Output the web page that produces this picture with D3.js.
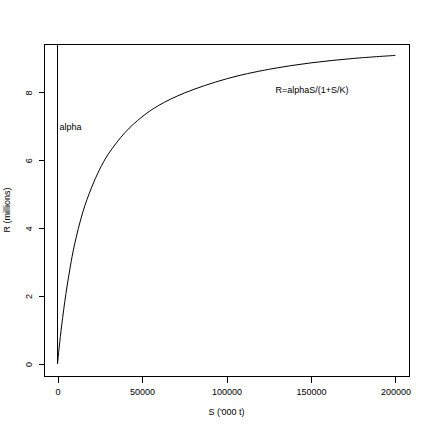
<!DOCTYPE html>
<html><head><meta charset="utf-8">
<script src="https://cdn.jsdelivr.net/npm/d3@7"></script>
<style>body{margin:0;background:#fff}svg{display:block}text{font-family:"Liberation Sans",Arial,sans-serif;font-size:9px;fill:#000}</style>
</head><body>
<script>
// Data
const stock = [0, 1000, 2500, 5000, 7500, 10000, 15000, 20000, 25000, 30000, 40000, 50000, 60000, 75000, 100000, 125000, 150000, 175000, 200000];
const recruits = [0, 0.50, 1.15, 2.08, 2.85, 3.50, 4.48, 5.18, 5.74, 6.18, 6.82, 7.28, 7.62, 7.98, 8.40, 8.68, 8.87, 9.00, 9.09];
const alphaS = [0, 0];
const alphaR = [0, 20];
const xTicks = [0, 50000, 100000, 150000, 200000];
const yTicks = [0, 2, 4, 6, 8];
const xLabel = "S ('000 t)";
const yLabel = "R (millions)";
const alphaLabel = "alpha";
const curveLabel = "R=alphaS/(1+S/K)";

const W = 432, H = 432;
const L = 44, R = 409, T = 44, B = 376;
const svg = d3.select("body").append("svg").attr("width", W).attr("height", H);
const x = d3.scaleLinear().domain([-8000, 208000]).range([L, R]);
const y = d3.scaleLinear().domain([-0.354, 9.426]).range([B, T]);

svg.append("clipPath").attr("id", "clip").append("rect")
  .attr("x", L).attr("y", T).attr("width", R - L).attr("height", B - T);

// box
svg.append("rect").attr("x", L + 0.5).attr("y", T + 0.5).attr("width", R - L).attr("height", B - T)
  .attr("fill", "none").attr("stroke", "#000").attr("shape-rendering", "crispEdges");

// x axis
const xa = svg.append("g").attr("transform", `translate(0,${B + 0.5})`)
  .call(d3.axisBottom(x).tickValues(xTicks).tickSize(6).tickPadding(6).tickFormat(d3.format("d")));
xa.select(".domain").attr("d", `M${x(0)},0H${x(200000)}`).attr("shape-rendering", "crispEdges");
xa.selectAll(".tick line").attr("shape-rendering", "crispEdges");
xa.selectAll("text").attr("font-size", 9).attr("font-family", "Liberation Sans, Arial, sans-serif");

// y axis
const ya = svg.append("g").attr("transform", `translate(${L + 0.5},0)`)
  .call(d3.axisLeft(y).tickValues(yTicks).tickSize(6).tickFormat(d3.format("d")));
ya.select(".domain").attr("d", `M0,${y(0)}V${y(8)}`).attr("shape-rendering", "crispEdges");
ya.selectAll(".tick line").attr("shape-rendering", "crispEdges");
ya.selectAll(".tick text").attr("font-size", 9).attr("font-family", "Liberation Sans, Arial, sans-serif")
  .attr("x", null).attr("dy", null)
  .attr("text-anchor", "middle")
  .attr("transform", "translate(-16,0) rotate(-90)")
  .attr("dy", "0.35em");

// axis titles
svg.append("text").attr("x", (L + R) / 2).attr("y", 412).attr("dy", "0.35em")
  .attr("text-anchor", "middle").text(xLabel);
svg.append("text").attr("transform", `translate(7,${(T + B) / 2}) rotate(-90)`).attr("dy", "0.35em")
  .attr("text-anchor", "middle").text(yLabel);

const g = svg.append("g").attr("clip-path", "url(#clip)");
// alpha line
g.append("path").datum(alphaS.map((s, i) => [s, alphaR[i]]))
  .attr("d", d3.line().x(d => x(d[0])).y(d => y(d[1])))
  .attr("fill", "none").attr("stroke", "#000").attr("stroke-width", 1);
// curve
g.append("path").datum(stock.map((s, i) => [s, recruits[i]]))
  .attr("d", d3.line().curve(d3.curveCatmullRom.alpha(0.5)).x(d => x(d[0])).y(d => y(d[1])))
  .attr("fill", "none").attr("stroke", "#000").attr("stroke-width", 1);

svg.append("text").attr("x", x(0) + 2).attr("y", 127).attr("dy", "0.35em").text(alphaLabel);
svg.append("text").attr("x", 312).attr("y", 90).attr("dy", "0.35em").attr("text-anchor", "middle").text(curveLabel);
</script>
</body></html>
